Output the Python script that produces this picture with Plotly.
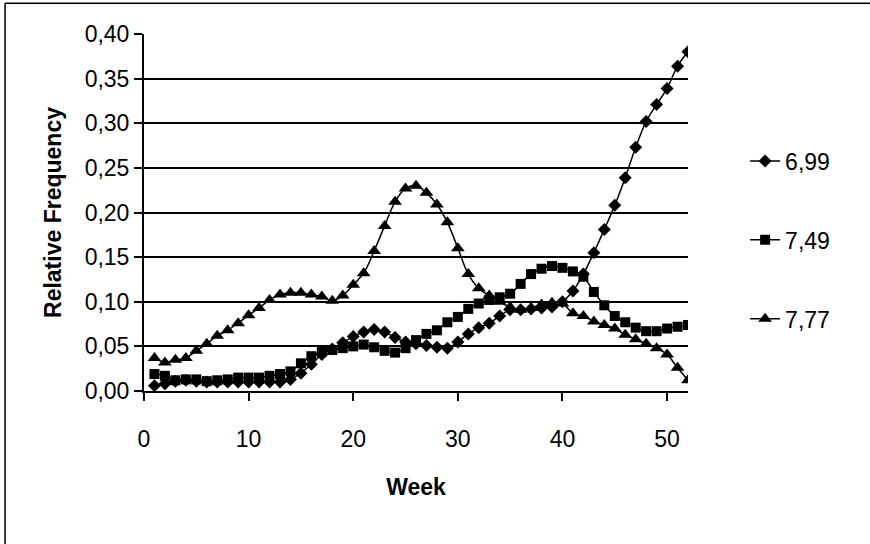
import plotly.graph_objects as go

# ── Data ──────────────────────────────────────────────────────────────────────
weeks = list(range(1, 53))

freq_699 = [
    0.006, 0.008, 0.011, 0.012, 0.011, 0.010, 0.010, 0.010, 0.010, 0.010,
    0.010, 0.010, 0.010, 0.013, 0.020, 0.030, 0.041, 0.047, 0.054, 0.061,
    0.066, 0.069, 0.066, 0.060, 0.055, 0.053, 0.051, 0.049, 0.048, 0.055,
    0.064, 0.071, 0.076, 0.084, 0.091, 0.091, 0.092, 0.093, 0.094, 0.100,
    0.112, 0.131, 0.155, 0.181, 0.208, 0.239, 0.273, 0.302, 0.321, 0.339,
    0.364, 0.380,
]
freq_749 = [
    0.019, 0.017, 0.012, 0.013, 0.013, 0.011, 0.012, 0.013, 0.015, 0.015,
    0.015, 0.017, 0.019, 0.022, 0.031, 0.039, 0.044, 0.046, 0.048, 0.050,
    0.052, 0.049, 0.045, 0.043, 0.048, 0.057, 0.064, 0.068, 0.077, 0.083,
    0.092, 0.098, 0.102, 0.105, 0.109, 0.120, 0.131, 0.137, 0.140, 0.138,
    0.134, 0.128, 0.111, 0.096, 0.084, 0.077, 0.071, 0.067, 0.067, 0.070,
    0.072, 0.074,
]
freq_777 = [
    0.037, 0.032, 0.035, 0.037, 0.045, 0.053, 0.062, 0.068, 0.076, 0.085,
    0.093, 0.102, 0.108, 0.110, 0.110, 0.108, 0.106, 0.101, 0.107, 0.119,
    0.132, 0.157, 0.185, 0.212, 0.227, 0.230, 0.222, 0.209, 0.189, 0.160,
    0.131, 0.115, 0.107, 0.100, 0.094, 0.091, 0.093, 0.097, 0.099, 0.098,
    0.087, 0.084, 0.078, 0.074, 0.070, 0.063, 0.058, 0.053, 0.048, 0.041,
    0.026, 0.012,
]

series_names = ["6,99", "7,49", "7,77"]
x_ticks = [0, 10, 20, 30, 40, 50]

# ── Style ─────────────────────────────────────────────────────────────────────
FONT = "Liberation Sans, Arial, sans-serif"
INK = "#000000"
FS = 23
_AXIS_COMMON = dict(
    showline=True, linecolor=INK, linewidth=2,
    ticks="outside", tickcolor=INK, tickwidth=2, ticklen=8,
    tickfont=dict(family=FONT, size=FS, color=INK),
    zeroline=False,
)

fig = go.Figure()

markers = [
    dict(symbol="diamond", size=10),
    dict(symbol="square", size=10),
    dict(symbol="triangle-up", size=12),
]
for name, vals, mk in zip(series_names, [freq_699, freq_749, freq_777], markers):
    fig.add_trace(go.Scatter(
        x=weeks, y=vals,
        mode="lines+markers", name=name,
        legendgroup=name,
        line=dict(color=INK, width=1.5, shape="spline"),
        marker=dict(color=INK, line=dict(color=INK, width=0), **mk),
    ))

fig.update_xaxes(
    range=[0, 52], tickvals=x_ticks,
    showgrid=False,
    ticklabelstandoff=18,
    title=dict(text="Week", standoff=28,
               font=dict(family=FONT, size=FS, color=INK, weight="bold")),
    **_AXIS_COMMON,
)
fig.update_yaxes(
    range=[0, 0.40], dtick=0.05, tickformat=".2f",
    showgrid=True, gridcolor=INK, gridwidth=2,
    title=dict(text="Relative Frequency", standoff=17,
               font=dict(family=FONT, size=FS, color=INK, weight="bold")),
    **_AXIS_COMMON,
)

# outer chart frame: only left and top edges fall inside the picture
frame = dict(color=INK, width=1.5)
fig.add_shape(type="line", xref="paper", yref="paper",
              x0=-0.2555, x1=-0.2555, y0=1.086, y1=-0.6, line=frame)
fig.add_shape(type="line", xref="paper", yref="paper",
              x0=-0.2555, x1=1.4, y0=1.086, y1=1.086, line=frame)

fig.update_layout(
    width=870, height=544,
    margin=dict(l=144, r=182, t=34, b=153),
    paper_bgcolor="white", plot_bgcolor="white",
    separators=", ",
    font=dict(family=FONT, size=FS, color=INK),
    showlegend=True,
    legend=dict(
        x=1.105, xanchor="left", y=0.423, yanchor="middle",
        font=dict(family=FONT, size=FS, color=INK),
        tracegroupgap=46, bgcolor="rgba(0,0,0,0)", borderwidth=0,
    ),
)

# drop the default 8px page margin so the figure sits at the window origin
fig.write_html(
    "out.html",
    config=dict(displayModeBar=False),
    post_script="document.body.style.margin='0';document.body.style.overflow='hidden';",
)
